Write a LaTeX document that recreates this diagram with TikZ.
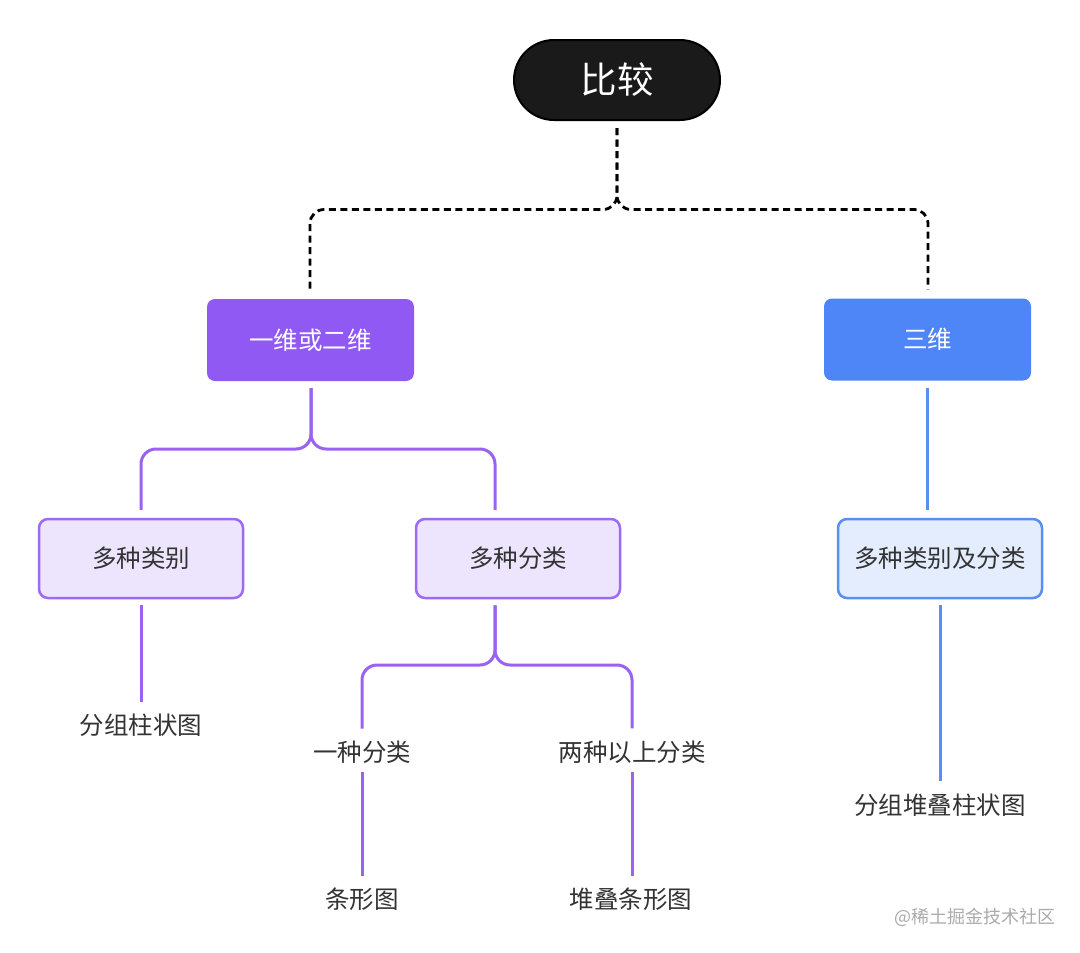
\documentclass[tikz,border=0pt]{standalone}
\usepackage{fontspec}
\setmainfont{Noto Sans CJK SC}
\usetikzlibrary{calc}
\definecolor{topfill}{HTML}{1A1A1A}
\definecolor{pfill}{HTML}{9059F4}
\definecolor{bfill}{HTML}{4E86F7}
\definecolor{plight}{HTML}{EDE5FD}
\definecolor{pborder}{HTML}{9D6BF2}
\definecolor{blight}{HTML}{E4EDFD}
\definecolor{bborder}{HTML}{5B8EF1}
\definecolor{pline}{HTML}{9A62F0}
\definecolor{bline}{HTML}{5B8EF1}
\definecolor{txt}{HTML}{333333}
\definecolor{wm}{HTML}{ABABAB}
\tikzset{
  rootbox/.style={draw=black, line width=2pt, fill=topfill, text=white, minimum width=206pt, minimum height=80pt, rounded corners=40pt, inner sep=0pt, font=\fontsize{36.5}{40}\selectfont},
  mainbox/.style={minimum width=207pt, minimum height=82pt, rounded corners=8pt, inner sep=0pt, text=white, font=\fontsize{24.5}{28}\selectfont},
  subbox/.style={line width=2.5pt, minimum width=204pt, minimum height=79pt, rounded corners=9pt, inner sep=0pt, text=txt, font=\fontsize{24.5}{28}\selectfont},
  leaf/.style={inner sep=0pt, text=txt, font=\fontsize{24.5}{28}\selectfont},
  dline/.style={line width=2.8pt, dash pattern=on 7pt off 4.5pt, rounded corners=14pt},
  pconn/.style={pline, line width=3pt, rounded corners=15pt},
  bconn/.style={bline, line width=3pt},
}
\begin{document}
\begin{tikzpicture}[x=1pt,y=-1pt]
\useasboundingbox[fill=white] (0,0) rectangle (1080,953);
% nodes
\node[rootbox] (root) at (617,80) {比较};
\node[mainbox, fill=pfill] (dim2) at (310.5,340) {一维或二维};
\node[mainbox, fill=bfill] (dim3) at (927.5,339.5) {三维};
\node[subbox, draw=pborder, fill=plight] (cat) at (141,558.5) {多种类别};
\node[subbox, draw=pborder, fill=plight] (cls) at (518,558.5) {多种分类};
\node[subbox, draw=bborder, fill=blight] (catcls) at (940,558.5) {多种类别及分类};
\node[leaf] (groupbar) at (141,725) {分组柱状图};
\node[leaf] (one) at (362,752) {一种分类};
\node[leaf] (multi) at (632,752) {两种以上分类};
\node[leaf] (bar) at (362,899) {条形图};
\node[leaf] (stackbar) at (631,899) {堆叠条形图};
\node[leaf] (groupstack) at (940,805) {分组堆叠柱状图};
\node[text=wm, inner sep=0pt, font=\fontsize{18}{21}\selectfont] (mark) at (975,917) {@稀土掘金技术社区};
% junction coordinates
\coordinate (j1) at (617,209.5);
\coordinate (j2) at (311,449);
\coordinate (j3) at (495,665);
% root connectors
\draw[dline, shorten <=7pt, shorten >=9pt] (root.south) -- (j1) -| ([xshift=-0.5pt]dim2.north);
\draw[dline, shorten <=7pt, shorten >=9pt] (root.south) -- (j1) -| ([xshift=0.5pt]dim3.north);
% purple tree
\draw[pconn, shorten <=7pt, shorten >=8pt] ([xshift=0.5pt]dim2.south) -- (j2) -| (cat.north);
\draw[pconn, shorten <=7pt, shorten >=8pt] ([xshift=0.5pt]dim2.south) -- (j2) -| ([xshift=-23pt]cls.north);
\draw[pconn, shorten <=6pt, shorten >=11pt] (cat.south) -- (groupbar.north);
\draw[pconn, shorten <=6pt, shorten >=12pt] ([xshift=-23pt]cls.south) -- (j3) -| (one.north);
\draw[pconn, shorten <=6pt, shorten >=12pt] ([xshift=-23pt]cls.south) -- (j3) -| (multi.north);
\draw[pconn, shorten <=8pt, shorten >=11pt] (one.south) -- (one.south |- bar.north);
\draw[pconn, shorten <=8pt, shorten >=11pt] (multi.south) -- (multi.south |- stackbar.north);
% blue tree
\draw[bconn, shorten <=7pt, shorten >=8pt] (dim3.south) -- (dim3.south |- catcls.north);
\draw[bconn, shorten <=6pt, shorten >=12pt] (catcls.south) -- (groupstack.north);
\end{tikzpicture}
\end{document}
